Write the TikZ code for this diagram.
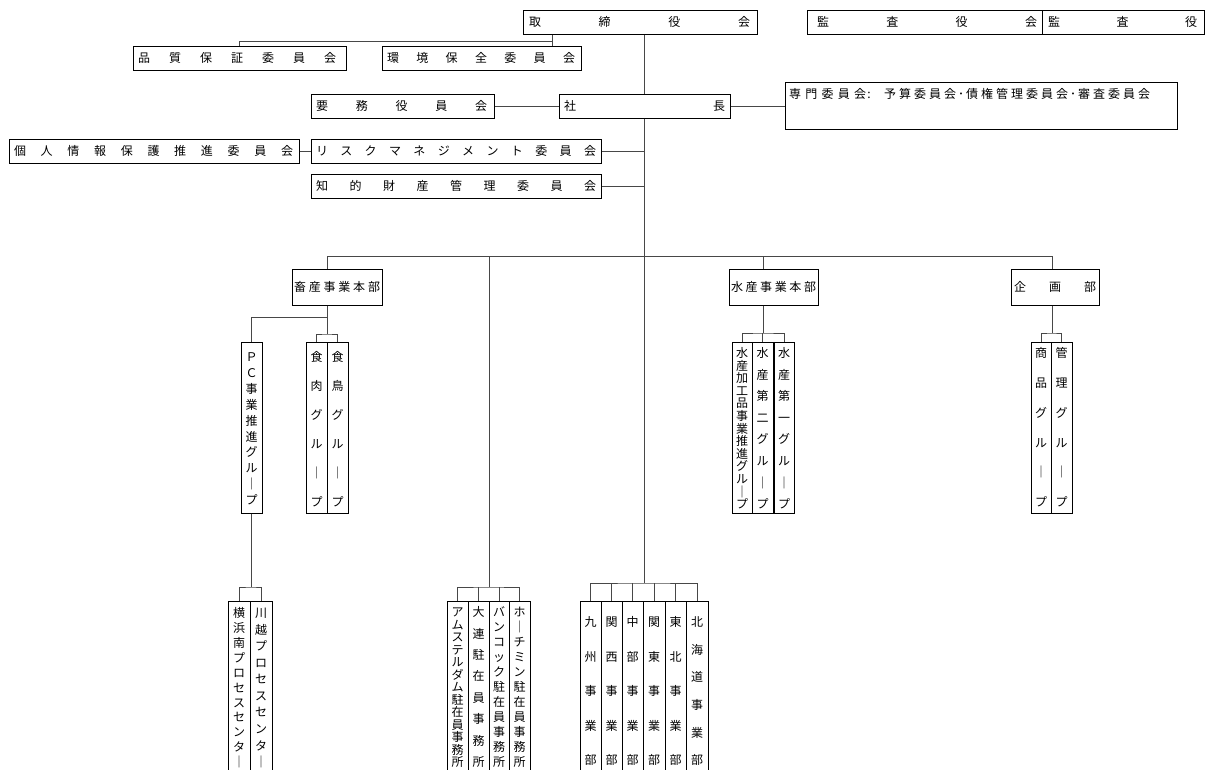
\documentclass[tikz,border=0pt]{standalone}
\usepackage{fontspec}
\setmainfont{Noto Sans CJK JP}
\usetikzlibrary{fit}
\tikzset{
  box/.style={draw=black, line width=1pt, inner sep=0pt},
  conn/.style={draw=black!72, line width=1pt},
  ch/.style={inner sep=0pt, font=\fontsize{12}{14}\selectfont, text height=10.6pt, text depth=1.4pt, anchor=center},
}
\newcommand\spreadH[5]{% name, x1, x2, y, list
  \foreach \c [count=\i] in {#5}{\xdef\nchars{\i}}%
  \foreach \c [count=\i] in {#5}{%
    \node[ch] (#1-\i) at ({#2+(#3-#2)*(\i-1)/(\nchars-1)},{#4}) {\c};}}
\newcommand\spreadV[5]{% name, x, y1, y2, list
  \foreach \c [count=\i] in {#5}{\xdef\nchars{\i}}%
  \foreach \c [count=\i] in {#5}{%
    \node[ch] (#1-\i) at ({#2},{#3+(#4-#3)*(\i-1)/(\nchars-1)}) {\c};}}
\newcommand\hbx[8]{% name, x1,y1,x2,y2, xs, xe, list
  \node[box, fit={(#2,#3) (#4,#5)}] (#1) {};
  \spreadH{#1c}{#6}{#7}{(#3+#5)/2}{#8}}
\newcommand\vbx[8]{% name, x1,y1,x2,y2, ys, ye, list
  \node[box, fit={(#2,#3) (#4,#5)}] (#1) {};
  \spreadV{#1c}{(#2+#4)/2}{#6}{#7}{#8}}
\begin{document}
\begin{tikzpicture}[x=1pt,y=-1pt]
\useasboundingbox (0,0) rectangle (1208,769);
\fill[white] (0,0) rectangle (1208,769);
\clip (0,0) rectangle (1208,769);

% top level boxes
\hbx{torishimari}{523}{10}{757}{34}{535}{744}{取,締,役,会}
\hbx{kansayakukai}{807}{10}{1042}{34}{823}{1031}{監,査,役,会}
\hbx{kansayaku}{1042}{10}{1204}{34}{1054}{1191}{監,査,役}
\hbx{hinshitsu}{133}{46}{346}{70}{144}{330}{品,質,保,証,委,員,会}
\hbx{kankyo}{382}{46}{581}{70}{393}{569}{環,境,保,全,委,員,会}
\hbx{yomu}{311}{94}{494}{118}{322}{481}{要,務,役,員,会}
\hbx{shacho}{559}{94}{730}{118}{570}{719}{社,長}
\node[box, fit={(785,82) (1177,129)}] (senmon) {};
\spreadH{senmonA}{795}{860}{94}{専,門,委,員,会}
\node[ch] (senmonColon) at (869,94) {:};
\spreadH{senmonB}{890}{950}{94}{予,算,委,員,会}
\node[ch] (senmonDot1) at (961,94) {･};
\spreadH{senmonC}{972}{1062}{94}{債,権,管,理,委,員,会}
\node[ch] (senmonDot2) at (1073,94) {･};
\spreadH{senmonD}{1084}{1144}{94}{審,査,委,員,会}
\hbx{kojin}{9}{139}{299}{163}{20}{287}{個,人,情,報,保,護,推,進,委,員,会}
\hbx{risk}{311}{139}{601}{163}{322}{590}{リ,ス,ク,マ,ネ,ジ,メ,ン,ト,委,員,会}
\hbx{chiteki}{311}{174}{601}{198}{322}{590}{知,的,財,産,管,理,委,員,会}

% divisions
\hbx{chikusan}{292}{269}{382}{305}{300}{374}{畜,産,事,業,本,部}
\hbx{suisan}{729}{269}{818}{305}{737}{810}{水,産,事,業,本,部}
\hbx{kikaku}{1011}{269}{1099}{305}{1020}{1090}{企,画,部}

% groups
\vbx{pc}{241}{342}{262}{513}{357}{500}{Ｐ,Ｃ,事,業,推,進,グ,ル,｜,プ}
\vbx{shokuniku}{306}{342}{327}{513}{357}{502}{食,肉,グ,ル,｜,プ}
\vbx{shokucho}{327}{342}{348}{513}{357}{502}{食,鳥,グ,ル,｜,プ}
\vbx{suikako}{732}{342}{752}{513}{353}{504}{水,産,加,工,品,事,業,推,進,グ,ル,｜,プ}
\vbx{suisan2}{752}{342}{773}{513}{353}{504}{水,産,第,二,グ,ル,｜,プ}
\vbx{suisan1}{774}{342}{794}{513}{353}{504}{水,産,第,一,グ,ル,｜,プ}
\vbx{shohin}{1031}{342}{1051}{513}{353}{502}{商,品,グ,ル,｜,プ}
\vbx{kanri}{1051}{342}{1072}{513}{353}{502}{管,理,グ,ル,｜,プ}

% bottom offices
\vbx{yokohama}{228}{601}{250}{790}{613}{762}{横,浜,南,プ,ロ,セ,ス,セ,ン,タ,｜}
\vbx{kawagoe}{250}{601}{272}{790}{613}{762}{川,越,プ,ロ,セ,ス,セ,ン,タ,｜}
\vbx{amsterdam}{447}{601}{468}{790}{612}{762}{ア,ム,ス,テ,ル,ダ,ム,駐,在,員,事,務,所}
\vbx{dalian}{468}{601}{489}{790}{612}{762}{大,連,駐,在,員,事,務,所}
\vbx{bangkok}{489}{601}{509}{790}{612}{762}{バ,ン,コ,ッ,ク,駐,在,員,事,務,所}
\vbx{hochiminh}{509}{601}{530}{790}{612}{762}{ホ,｜,チ,ミ,ン,駐,在,員,事,務,所}
\vbx{kyushu}{580}{601}{601}{790}{622}{760}{九,州,事,業,部}
\vbx{kansai}{601}{601}{622}{790}{622}{760}{関,西,事,業,部}
\vbx{chubu}{622}{601}{643}{790}{622}{760}{中,部,事,業,部}
\vbx{kanto}{643}{601}{665}{790}{622}{760}{関,東,事,業,部}
\vbx{tohoku}{665}{601}{686}{790}{622}{760}{東,北,事,業,部}
\vbx{hokkaido}{686}{601}{708}{790}{622}{760}{北,海,道,事,業,部}

% coordinates
\coordinate (trunk) at (644,0);
\coordinate (cb) at (552,41);
\coordinate (busL) at (327,256);
\coordinate (busR) at (1052,256);
\coordinate (ov) at (489,256);
\coordinate (ovb) at (489,587);
\coordinate (sv) at (763,256);
\coordinate (db) at (644,583);
\coordinate (cs1) at (327,317);
\coordinate (cs2) at (327,334);
\coordinate (pcb) at (251.5,587);
\coordinate (sb) at (763,333);
\coordinate (kb) at (1052,333);

% connectors
\draw[conn] (torishimari.south -| trunk) -- (shacho.north -| trunk);
\draw[conn] (shacho.south -| trunk) -- (db);
\draw[conn] (torishimari.south -| cb) -- (kankyo.north -| cb);
\draw[conn] (cb) -| (hinshitsu.north);
\draw[conn] (yomu) -- (shacho);
\draw[conn] (shacho.east) -- (shacho.east -| senmon.west);
\draw[conn] (kojin) -- (risk);
\draw[conn] (risk.east) -- (risk.east -| trunk);
\draw[conn] (chiteki.east) -- (chiteki.east -| trunk);

\draw[conn] (busL) -- (busR);
\draw[conn] (busL) -- (busL |- chikusan.north);
\draw[conn] (sv) -- (sv |- suisan.north);
\draw[conn] (busR) -- (busR |- kikaku.north);
\draw[conn] (ov) -- (ovb);

\draw[conn] (chikusan.south -| cs1) -- (cs1) -| (pc.north);
\draw[conn] (cs1) -- (cs2);
\draw[conn] (shokuniku.north) |- (cs2) -| (shokucho.north);
\draw[conn] (pc.south) -- (pcb);
\draw[conn] (yokohama.north) |- (pcb) -| (kawagoe.north);

\draw[conn] (amsterdam.north) |- (ovb) -| (hochiminh.north);
\draw[conn] (dalian.north) -- (dalian.north |- ovb);
\draw[conn] (bangkok.north) -- (bangkok.north |- ovb);

\draw[conn] (kyushu.north) |- (db) -| (hokkaido.north);
\draw[conn] (kansai.north) -- (kansai.north |- db);
\draw[conn] (chubu.north) -- (chubu.north |- db);
\draw[conn] (kanto.north) -- (kanto.north |- db);
\draw[conn] (tohoku.north) -- (tohoku.north |- db);

\draw[conn] (suisan.south -| sb) -- (sb);
\draw[conn] (suikako.north) |- (sb) -| (suisan1.north);
\draw[conn] (suisan2.north) -- (suisan2.north |- sb);

\draw[conn] (kikaku.south -| kb) -- (kb);
\draw[conn] (shohin.north) |- (kb) -| (kanri.north);
\end{tikzpicture}
\end{document}
